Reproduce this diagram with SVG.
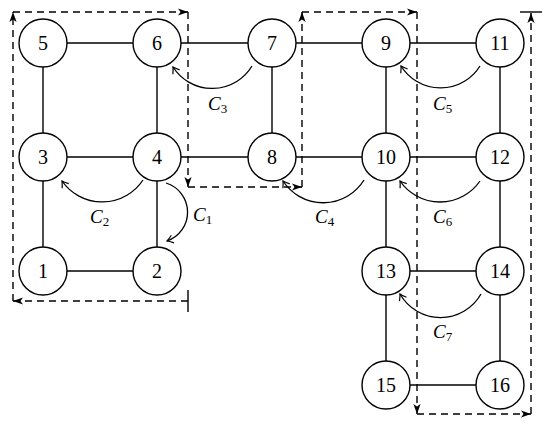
<svg xmlns="http://www.w3.org/2000/svg" width="550" height="425" viewBox="0 0 550 425">
<style>
.n circle{fill:#fff;stroke:#000;stroke-width:1.4}
.n text{font-family:"Liberation Serif","DejaVu Serif",serif;font-size:20px;text-anchor:middle;fill:#000}
.e{stroke:#000;stroke-width:1.4;fill:none}
.d{stroke:#000;stroke-width:1.4;fill:none;stroke-dasharray:7,5;marker-end:url(#fa)}
.c{stroke:#000;stroke-width:1.3;fill:none;marker-end:url(#oa)}
.lbl{font-family:"Liberation Serif","DejaVu Serif",serif;font-size:19px;font-style:italic;fill:#000}
.lbl tspan{font-style:normal;font-size:13px}
</style>
<defs>
<marker id="fa" viewBox="-11 -5 12 10" refX="0" refY="0" markerWidth="12" markerHeight="10" orient="auto" markerUnits="userSpaceOnUse">
<path d="M0,0 L-10,-3.6 L-7.5,0 L-10,3.6 Z" fill="#000" stroke="none"/>
</marker>
<marker id="oa" viewBox="-8 -5 9 10" refX="0" refY="0" markerWidth="9" markerHeight="10" orient="auto" markerUnits="userSpaceOnUse">
<path d="M-6,-4 Q-2,-1 0,0 Q-2,1 -6,4" fill="none" stroke="#000" stroke-width="1.2"/>
</marker>
</defs>
<g id="connectors">
<line class="e" x1="43" y1="43" x2="500" y2="43"/>
<line class="e" x1="43" y1="157" x2="500" y2="157"/>
<line class="e" x1="43" y1="271" x2="157" y2="271"/>
<line class="e" x1="386" y1="271" x2="500" y2="271"/>
<line class="e" x1="386" y1="385" x2="500" y2="385"/>
<line class="e" x1="43" y1="43" x2="43" y2="271"/>
<line class="e" x1="157" y1="43" x2="157" y2="271"/>
<line class="e" x1="272" y1="43" x2="272" y2="157"/>
<line class="e" x1="386" y1="43" x2="386" y2="385"/>
<line class="e" x1="500" y1="43" x2="500" y2="385"/>
</g>
<g id="partition">
<line class="e" x1="188" y1="290" x2="188" y2="312"/>
<line class="d" x1="188" y1="301" x2="13" y2="301"/>
<line class="d" x1="13" y1="301" x2="13" y2="12"/>
<line class="d" x1="13" y1="12" x2="188" y2="12"/>
<line class="d" x1="188" y1="12" x2="188" y2="187"/>
<line class="d" x1="188" y1="187" x2="302" y2="187"/>
<line class="d" x1="302" y1="187" x2="302" y2="12"/>
<line class="d" x1="302" y1="12" x2="417" y2="12"/>
<line class="d" x1="417" y1="12" x2="417" y2="414"/>
<line class="d" x1="417" y1="414" x2="531" y2="414"/>
<line class="d" x1="531" y1="414" x2="531" y2="13"/>
<line class="e" x1="520" y1="12" x2="542" y2="12"/>
</g>
<g id="n1" class="n"><circle cx="43" cy="271" r="24"/><text x="43" y="277.5">1</text></g>
<g id="n2" class="n"><circle cx="157" cy="271" r="24"/><text x="157" y="277.5">2</text></g>
<g id="n3" class="n"><circle cx="43" cy="157" r="24"/><text x="43" y="163.5">3</text></g>
<g id="n4" class="n"><circle cx="157" cy="157" r="24"/><text x="157" y="163.5">4</text></g>
<g id="n5" class="n"><circle cx="43" cy="43" r="24"/><text x="43" y="49.5">5</text></g>
<g id="n6" class="n"><circle cx="157" cy="43" r="24"/><text x="157" y="49.5">6</text></g>
<g id="n7" class="n"><circle cx="272" cy="43" r="24"/><text x="272" y="49.5">7</text></g>
<g id="n8" class="n"><circle cx="272" cy="157" r="24"/><text x="272" y="163.5">8</text></g>
<g id="n9" class="n"><circle cx="386" cy="43" r="24"/><text x="386" y="49.5">9</text></g>
<g id="n10" class="n"><circle cx="386" cy="157" r="24"/><text x="386" y="163.5">10</text></g>
<g id="n11" class="n"><circle cx="500" cy="43" r="24"/><text x="500" y="49.5">11</text></g>
<g id="n12" class="n"><circle cx="500" cy="157" r="24"/><text x="500" y="163.5">12</text></g>
<g id="n13" class="n"><circle cx="386" cy="271" r="24"/><text x="386" y="277.5">13</text></g>
<g id="n14" class="n"><circle cx="500" cy="271" r="24"/><text x="500" y="277.5">14</text></g>
<g id="n15" class="n"><circle cx="386" cy="385" r="24"/><text x="386" y="391.5">15</text></g>
<g id="n16" class="n"><circle cx="500" cy="385" r="24"/><text x="500" y="391.5">16</text></g>
<g id="cycles">
<path class="c" d="M166,183 A30.5,30.5 0 0 1 167,241"/>
<path class="c" d="M143,180 A49,49 0 0 1 62,181"/>
<path class="c" d="M252,66 A46.5,46.5 0 0 1 173,67"/>
<path class="c" d="M364,180 A48,48 0 0 1 283,181"/>
<path class="c" d="M480,66 A46.5,46.5 0 0 1 401,66"/>
<path class="c" d="M480,181 A48.6,48.6 0 0 1 400,181"/>
<path class="c" d="M481,294 A46.6,46.6 0 0 1 400,294"/>
<text class="lbl" x="193" y="221">C<tspan dy="3">1</tspan></text>
<text class="lbl" x="90" y="223">C<tspan dy="3">2</tspan></text>
<text class="lbl" x="208" y="110">C<tspan dy="3">3</tspan></text>
<text class="lbl" x="315" y="223">C<tspan dy="3">4</tspan></text>
<text class="lbl" x="433" y="110">C<tspan dy="3">5</tspan></text>
<text class="lbl" x="433" y="223">C<tspan dy="3">6</tspan></text>
<text class="lbl" x="433" y="338">C<tspan dy="3">7</tspan></text>
</g>
</svg>
